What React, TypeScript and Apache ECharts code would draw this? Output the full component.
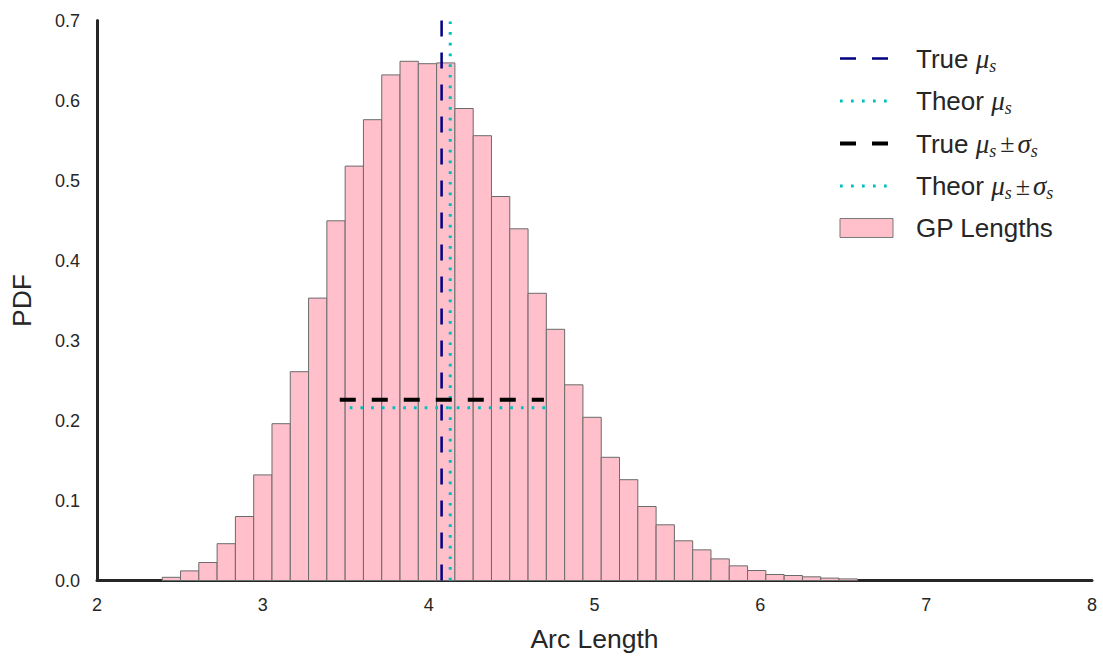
import React, { useEffect, useRef } from 'react';
import * as echarts from 'echarts';

// Histogram of GP arc lengths
const binStart = 2.3934;
const binWidth = 0.1103;
const pdfValues = [
  0.004, 0.012, 0.0225, 0.046, 0.08, 0.132, 0.196, 0.261, 0.353, 0.4496,
  0.518, 0.576, 0.632, 0.649, 0.646, 0.647, 0.59, 0.556, 0.48, 0.4396,
  0.359, 0.314, 0.2446, 0.204, 0.154, 0.126, 0.0925, 0.0696, 0.0496, 0.0383,
  0.027, 0.0183, 0.0125, 0.0075, 0.00625, 0.0046, 0.003, 0.002,
];

// Reference lines
const trueMu = 4.078;
const theorMu = 4.13;
const trueBand = [3.464, 4.695];
const trueBandY = 0.2258;
const theorBand = [3.524, 4.71];
const theorBandY = 0.216;

const xRange = [2, 8];
const yRange = [0, 0.7];

const seriesNames = ['True μs', 'Theor μs', 'True μs±σs', 'Theor μs±σs', 'GP Lengths'];
const legendRich: Record<string, string> = {
  'True μs': '{n|True }{m|μ}{s|s}',
  'Theor μs': '{n|Theor }{m|μ}{s|s}',
  'True μs±σs': '{n|True }{m|μ}{s|s}{r|±}{m|σ}{s|s}',
  'Theor μs±σs': '{n|Theor }{m|μ}{s|s}{r|±}{m|σ}{s|s}',
  'GP Lengths': '{n|GP Lengths}',
};

const TEXT = '#262626';
const NAVY = '#000080';
const CYAN = '#00BFBF';
const SANS = 'Liberation Sans, Arial, Helvetica, sans-serif';
const SERIF = 'Liberation Serif, Times New Roman, serif';

export default function App() {
  const ref = useRef<HTMLDivElement>(null);
  useEffect(() => {
    if (!ref.current) return;
    const chart = echarts.init(ref.current, null, { renderer: 'svg' });
    const histData = pdfValues.map((v, i) => [
      binStart + i * binWidth,
      binStart + (i + 1) * binWidth,
      v,
    ]);
    const hiddenSymbol = { opacity: 0 };
    chart.setOption({
      animation: false,
      backgroundColor: '#ffffff',
      textStyle: { fontFamily: SANS },
      grid: { left: 96, right: 11, top: 20.5, bottom: 78.5, containLabel: false },
      legend: {
        orient: 'vertical',
        left: 838,
        top: 45,
        padding: 0,
        itemWidth: 53,
        itemHeight: 19,
        itemGap: 13,
        data: [
          { name: seriesNames[0], itemStyle: hiddenSymbol, lineStyle: { color: NAVY, width: 2.5, type: [16, 16] } },
          { name: seriesNames[1], itemStyle: hiddenSymbol, lineStyle: { color: CYAN, width: 3, type: [2.7, 8.3] } },
          { name: seriesNames[2], itemStyle: hiddenSymbol, lineStyle: { color: '#000000', width: 4, type: [16, 16] } },
          { name: seriesNames[3], itemStyle: hiddenSymbol, lineStyle: { color: CYAN, width: 3, type: [2.7, 8.3] } },
          {
            name: seriesNames[4],
            icon: 'rect',
            itemStyle: { color: '#FFC0CB', borderColor: '#7a7a7a', borderWidth: 1 },
          },
        ],
        formatter: (name: string) => legendRich[name] || name,
        textStyle: {
          color: TEXT,
          rich: {
            n: { fontSize: 26, fontFamily: SANS, color: TEXT, lineHeight: 32, padding: [0, 0, 0, 18] },
            m: { fontSize: 27, fontFamily: SERIF, fontStyle: 'italic', color: TEXT, lineHeight: 32 },
            s: { fontSize: 18, fontFamily: SERIF, fontStyle: 'italic', color: TEXT, lineHeight: 13, verticalAlign: 'bottom' },
            r: { fontSize: 26, fontFamily: SERIF, color: TEXT, lineHeight: 32, padding: [0, 3, 0, 4] },
          },
        },
      },
      xAxis: {
        type: 'value',
        min: xRange[0],
        max: xRange[1],
        interval: 1,
        name: 'Arc Length',
        nameLocation: 'middle',
        nameGap: 45,
        nameTextStyle: { fontSize: 26.5, color: TEXT, fontFamily: SANS },
        axisLine: { show: true, onZero: false, lineStyle: { color: TEXT, width: 3 } },
        axisTick: { show: false },
        splitLine: { show: false },
        axisLabel: { fontSize: 18, color: TEXT, margin: 15, fontFamily: SANS },
      },
      yAxis: {
        type: 'value',
        min: yRange[0],
        max: yRange[1],
        interval: 0.1,
        name: 'PDF',
        nameLocation: 'middle',
        nameGap: 62,
        nameRotate: 90,
        nameTextStyle: { fontSize: 26.5, color: TEXT, fontFamily: SANS },
        axisLine: { show: true, onZero: false, lineStyle: { color: TEXT, width: 3 } },
        axisTick: { show: false },
        splitLine: { show: false },
        axisLabel: {
          fontSize: 18,
          color: TEXT,
          margin: 17,
          fontFamily: SANS,
          formatter: (v: number) => v.toFixed(1),
        },
      },
      series: [
        {
          name: 'GP Lengths',
          type: 'custom',
          z: 2,
          itemStyle: { color: '#FFC0CB', borderColor: '#6b6b6b', borderWidth: 1 },
          encode: { x: [0, 1], y: 2 },
          data: histData,
          renderItem: (params: any, api: any) => {
            const p0 = api.coord([api.value(0), api.value(2)]);
            const p1 = api.coord([api.value(1), 0]);
            return {
              type: 'rect',
              shape: { x: p0[0], y: p0[1], width: p1[0] - p0[0], height: p1[1] - p0[1] },
              style: { fill: '#FFC0CB', stroke: '#6b6b6b', lineWidth: 1 },
            };
          },
        },
        {
          name: 'True μs',
          type: 'line',
          z: 5,
          symbol: 'none',
          data: [[trueMu, yRange[0]], [trueMu, yRange[1]]],
          lineStyle: { color: NAVY, width: 2.5, type: [16, 16] },
          itemStyle: { color: NAVY },
        },
        {
          name: 'Theor μs',
          type: 'line',
          z: 5,
          symbol: 'none',
          data: [[theorMu, yRange[0]], [theorMu, yRange[1]]],
          lineStyle: { color: CYAN, width: 3, type: [2.7, 8] },
          itemStyle: { color: CYAN },
        },
        {
          name: 'True μs±σs',
          type: 'line',
          z: 6,
          symbol: 'none',
          data: [[trueBand[0], trueBandY], [trueBand[1], trueBandY]],
          lineStyle: { color: '#000000', width: 4, type: [16, 16] },
          itemStyle: { color: '#000000' },
        },
        {
          name: 'Theor μs±σs',
          type: 'line',
          z: 6,
          symbol: 'none',
          data: [[theorBand[0], theorBandY], [theorBand[1], theorBandY]],
          lineStyle: { color: CYAN, width: 3, type: [2.7, 8] },
          itemStyle: { color: CYAN },
        },
      ],
    });
    return () => chart.dispose();
  }, []);
  return (
    <div
      ref={ref}
      style={{ position: 'fixed', left: 0, top: 0, width: 1103, height: 659, background: '#fff' }}
    />
  );
}
